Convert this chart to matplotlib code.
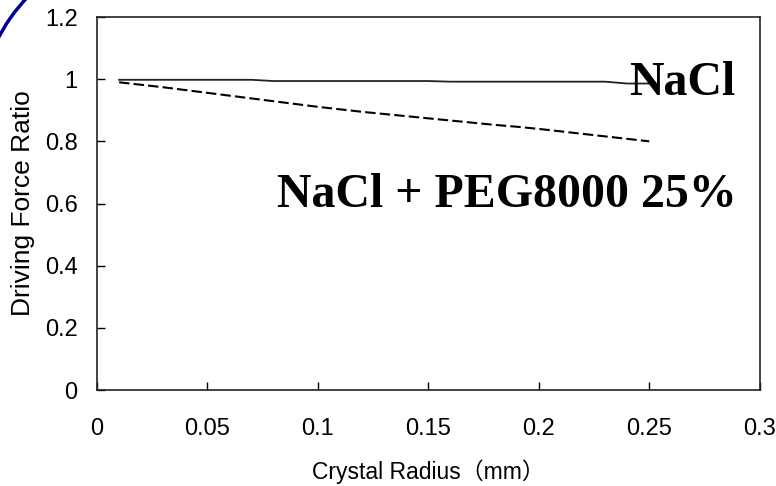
import numpy as np
import matplotlib
matplotlib.use("Agg")
import matplotlib.pyplot as plt
from matplotlib.patches import Arc

# crystal radius (mm)
radius = [0.01, 0.02, 0.03, 0.04, 0.05, 0.06, 0.07, 0.08, 0.09, 0.10,
          0.11, 0.12, 0.13, 0.14, 0.15, 0.16, 0.17, 0.18, 0.19, 0.20,
          0.21, 0.22, 0.23, 0.24, 0.25]
# driving force ratio, pure NaCl
nacl = [0.998, 0.998, 0.998, 0.998, 0.998, 0.998, 0.998, 0.994, 0.994, 0.994,
        0.994, 0.994, 0.994, 0.994, 0.994, 0.992, 0.992, 0.992, 0.992, 0.992,
        0.992, 0.992, 0.992, 0.986, 0.986]
# driving force ratio, NaCl + PEG8000 25%
nacl_peg = [0.990, 0.982, 0.974, 0.965, 0.956, 0.947, 0.938, 0.929, 0.920, 0.911,
            0.903, 0.895, 0.888, 0.881, 0.874, 0.867, 0.860, 0.853, 0.847, 0.840,
            0.832, 0.824, 0.816, 0.808, 0.800]

xticks = [0, 0.05, 0.1, 0.15, 0.2, 0.25, 0.3]
xticklabels = ["0", "0.05", "0.1", "0.15", "0.2", "0.25", "0.3"]
yticks = [0, 0.2, 0.4, 0.6, 0.8, 1.0, 1.2]
yticklabels = ["0", "0.2", "0.4", "0.6", "0.8", "1", "1.2"]

sans = ["Liberation Sans Narrow", "Liberation Sans", "Noto Sans CJK JP", "DejaVu Sans"]
serif = ["Liberation Serif", "DejaVu Serif"]
plt.rcParams['font.family'] = sans

fig = plt.figure(figsize=(7.76, 4.86), dpi=100)
ax = fig.add_axes([0.125, 0.1975, 0.854, 0.7675])

ax.plot(radius, nacl, color="#222222", lw=1.3, solid_joinstyle="miter")
ax.plot(radius, nacl_peg, color="black", lw=1.5, dashes=[5, 2])

ax.set_xlim(0, 0.3)
ax.set_ylim(0, 1.2)
ax.set_xticks(xticks)
ax.set_xticklabels(xticklabels)
ax.set_yticks(yticks)
ax.set_yticklabels(yticklabels)
ax.tick_params(axis="x", direction="in", length=6, width=1, pad=20, labelsize=17)
ax.tick_params(axis="y", direction="in", length=6, width=1, pad=14, labelsize=17)
for s in ax.spines.values():
    s.set_linewidth(1.2)
    s.set_color("#222222")

ax.set_xlabel("Crystal Radius（mm）", fontsize=16.5)
ax.set_ylabel("Driving Force Ratio", fontsize=19)
ax.xaxis.set_label_coords(0.5, -0.185)
ax.yaxis.set_label_coords(-0.094, 0.5)

ax.text(0.241, 0.949, "NaCl", fontsize=34.5, fontweight="bold",
        family=serif, ha="left", va="baseline")
ax.text(0.0815, 0.589, "NaCl + PEG8000 25%", fontsize=34.5, fontweight="bold",
        family=serif, ha="left", va="baseline")

# slide decoration arc in the top-left corner
arc = Arc((1.525, 3.685), 3.47, 3.47, theta1=125, theta2=165, color="#000099",
          lw=2.5, transform=fig.dpi_scale_trans)
fig.add_artist(arc)

fig.savefig("out.png", dpi=100)
